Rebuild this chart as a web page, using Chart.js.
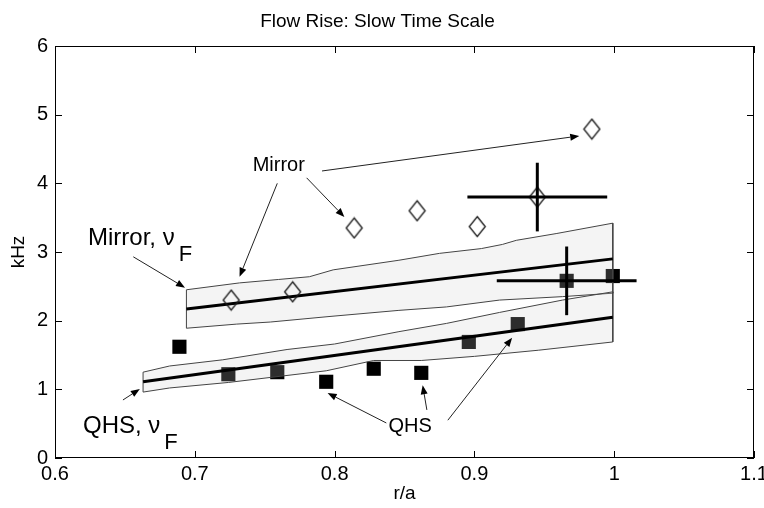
<!DOCTYPE html>
<html>
<head>
<meta charset="utf-8">
<script src="https://cdn.jsdelivr.net/npm/chart.js@4.4.1/dist/chart.umd.min.js"></script>
<style>
  body { margin: 0; background: #fff; }
  canvas { display: block; }
</style>
</head>
<body>
<canvas id="chart" width="764" height="508"></canvas>
<script>
const FONT = '"Liberation Sans", Arial, Helvetica, sans-serif';

// axes
const xTicks = [0.6, 0.7, 0.8, 0.9, 1.0, 1.1];
const xTickLabels = ["0.6", "0.7", "0.8", "0.9", "1", "1.1"];
const yTicks = [0, 1, 2, 3, 4, 5, 6];

// measured points
const mirrorR = [0.726, 0.770, 0.814, 0.859, 0.902, 0.945, 0.984];
const mirrorKHz = [2.30, 2.42, 3.35, 3.60, 3.37, 3.80, 4.79];
const qhsR = [0.689, 0.724, 0.759, 0.794, 0.828, 0.862, 0.896, 0.931, 0.966, 0.999];
const qhsKHz = [1.62, 1.22, 1.25, 1.11, 1.30, 1.24, 1.69, 1.95, 2.58, 2.65];

// error bars (centre, half widths)
const errR = [0.945, 0.966];
const errKHz = [3.80, 2.58];
const errHalfR = [0.05, 0.05];
const errHalfKHz = [0.5, 0.5];

// model nu_F : fit lines
const mirrorFitR = [0.694, 0.999];
const mirrorFitKHz = [2.17, 2.90];
const qhsFitR = [0.663, 0.999];
const qhsFitKHz = [1.11, 2.05];

// model nu_F : uncertainty bands
const mirrorUpR = [0.694, 0.732, 0.760, 0.782, 0.799, 0.846, 0.875, 0.905, 0.920, 0.930, 0.959, 0.999];
const mirrorUpKHz = [2.45, 2.55, 2.60, 2.64, 2.74, 2.88, 2.98, 3.05, 3.11, 3.17, 3.27, 3.42];
const mirrorLoR = [0.694, 0.730, 0.754, 0.796, 0.846, 0.880, 0.918, 0.963, 0.999];
const mirrorLoKHz = [1.89, 1.95, 1.98, 2.06, 2.15, 2.20, 2.30, 2.35, 2.40];
const qhsUpR = [0.663, 0.682, 0.720, 0.766, 0.800, 0.846, 0.880, 0.918, 0.963, 0.999];
const qhsUpKHz = [1.25, 1.34, 1.43, 1.58, 1.66, 1.84, 1.96, 2.12, 2.30, 2.42];
const qhsLoR = [0.663, 0.682, 0.724, 0.761, 0.794, 0.828, 0.862, 0.900, 0.946, 0.999];
const qhsLoKHz = [0.96, 1.02, 1.10, 1.19, 1.27, 1.42, 1.42, 1.48, 1.57, 1.69];

// text annotations, placed in data units
const notes = [
  { text: "Mirror, \u03bd", sub: "F", r: 0.6236, k: 3.10, size: 24 },
  { text: "QHS, \u03bd", sub: "F", r: 0.620, k: 0.364, size: 24 },
  { text: "Mirror", r: 0.7414, k: 4.18, size: 20 },
  { text: "QHS", r: 0.8386, k: 0.378, size: 20 },
];
const arrows = [
  [[0.656, 2.93], [0.693, 2.48]],
  [[0.759, 4.00], [0.732, 2.64]],
  [[0.780, 4.08], [0.807, 3.51]],
  [[0.791, 4.18], [0.975, 4.69]],
  [[0.6486, 0.845], [0.6607, 1.005]],
  [[0.837, 0.51], [0.795, 0.946]],
  [[0.866, 0.70], [0.863, 1.06]],
  [[0.881, 0.55], [0.927, 1.75]],
];

const pts = (xs, ys) => xs.map((x, i) => ({ x, y: ys[i] }));
const polygon = (upX, upY, loX, loY) => {
  const top = pts(upX, upY);
  const bottom = pts(loX, loY).reverse();
  return [...top, ...bottom, top[0]];
};

const diamond = document.createElement("canvas");
diamond.width = 19;
diamond.height = 23;
{
  const d = diamond.getContext("2d");
  d.strokeStyle = "#1a1a1a";
  d.lineWidth = 1.3;
  d.beginPath();
  d.moveTo(9.5, 1.5);
  d.lineTo(17.5, 11.5);
  d.lineTo(9.5, 21.5);
  d.lineTo(1.5, 11.5);
  d.closePath();
  d.stroke();
}

const band = (data) => ({
  data,
  showLine: true,
  tension: 0,
  fill: "shape",
  backgroundColor: "rgba(204,204,204,0.22)",
  borderColor: "#444",
  borderWidth: 1,
  pointRadius: 0,
  order: 5,
});

const bars = [];
errR.forEach((r, i) => {
  const k = errKHz[i];
  bars.push([{ x: r - errHalfR[i], y: k }, { x: r + errHalfR[i], y: k }]);
  bars.push([{ x: r, y: k - errHalfKHz[i] }, { x: r, y: k + errHalfKHz[i] }]);
});

const datasets = [
  {
    data: pts(qhsR, qhsKHz),
    pointStyle: "rect",
    pointRadius: 10,
    backgroundColor: "#000",
    borderWidth: 0,
    order: 6,
  },
  band(polygon(qhsUpR, qhsUpKHz, qhsLoR, qhsLoKHz)),
  band(polygon(mirrorUpR, mirrorUpKHz, mirrorLoR, mirrorLoKHz)),
  {
    data: pts(mirrorFitR, mirrorFitKHz),
    showLine: true, borderColor: "#000", borderWidth: 3, pointRadius: 0, order: 3,
  },
  {
    data: pts(qhsFitR, qhsFitKHz),
    showLine: true, borderColor: "#000", borderWidth: 3, pointRadius: 0, order: 3,
  },
  {
    data: pts(mirrorR, mirrorKHz),
    pointStyle: diamond,
    pointRadius: 9,
    order: 2,
  },
  ...bars.map(data => ({
    data, showLine: true, borderColor: "#000", borderWidth: 3, pointRadius: 0, order: 1,
  })),
];

const frame = {
  id: "frame",
  afterDatasetsDraw(chart) {
    const { ctx, chartArea: a, scales: { x, y } } = chart;
    ctx.save();

    // annotations
    ctx.fillStyle = "#000";
    ctx.textBaseline = "alphabetic";
    for (const n of notes) {
      ctx.font = `${n.size}px ${FONT}`;
      const px = x.getPixelForValue(n.r);
      const py = y.getPixelForValue(n.k);
      ctx.fillText(n.text, px, py);
      if (n.sub) {
        const w = ctx.measureText(n.text).width;
        ctx.font = `${n.size - 2}px ${FONT}`;
        ctx.fillText(n.sub, px + w + 4, py + 16);
      }
    }
    ctx.strokeStyle = "#222";
    ctx.lineWidth = 1;
    for (const [from, to] of arrows) {
      const x0 = x.getPixelForValue(from[0]), y0 = y.getPixelForValue(from[1]);
      const x1 = x.getPixelForValue(to[0]), y1 = y.getPixelForValue(to[1]);
      const ang = Math.atan2(y1 - y0, x1 - x0);
      const len = 9, half = 3.5;
      ctx.beginPath();
      ctx.moveTo(x0, y0);
      ctx.lineTo(x1 - Math.cos(ang) * len, y1 - Math.sin(ang) * len);
      ctx.stroke();
      ctx.beginPath();
      ctx.moveTo(x1, y1);
      ctx.lineTo(x1 - Math.cos(ang) * len - Math.sin(ang) * half, y1 - Math.sin(ang) * len + Math.cos(ang) * half);
      ctx.lineTo(x1 - Math.cos(ang) * len + Math.sin(ang) * half, y1 - Math.sin(ang) * len - Math.cos(ang) * half);
      ctx.closePath();
      ctx.fill();
    }

    // box with inward ticks
    ctx.strokeStyle = "#000";
    ctx.lineWidth = 1;
    ctx.strokeRect(a.left + 0.5, a.top + 0.5, a.right - a.left - 1, a.bottom - a.top - 1);
    ctx.beginPath();
    for (const v of xTicks) {
      const px = Math.round(x.getPixelForValue(v)) + 0.5;
      ctx.moveTo(px, a.bottom); ctx.lineTo(px, a.bottom - 7);
      ctx.moveTo(px, a.top); ctx.lineTo(px, a.top + 7);
    }
    for (const v of yTicks) {
      const py = Math.round(y.getPixelForValue(v)) + 0.5;
      ctx.moveTo(a.left, py); ctx.lineTo(a.left + 7, py);
      ctx.moveTo(a.right, py); ctx.lineTo(a.right - 7, py);
    }
    ctx.stroke();
    ctx.restore();
  },
};

Chart.defaults.font.family = FONT;
Chart.defaults.color = "#000";

new Chart(document.getElementById("chart"), {
  type: "scatter",
  data: { datasets },
  options: {
    responsive: false,
    devicePixelRatio: 1,
    animation: false,
    events: [],
    layout: { padding: { left: 0, right: 9, top: 0, bottom: 0 } },
    plugins: {
      legend: { display: false },
      tooltip: { enabled: false },
      title: {
        display: true,
        text: "Flow Rise: Slow Time Scale",
        font: { size: 19, weight: "normal" },
        padding: { top: 10, bottom: 13.2 },
      },
    },
    scales: {
      x: {
        type: "linear",
        min: 0.6,
        max: 1.1,
        grid: { display: false, drawTicks: false },
        border: { display: false },
        afterBuildTicks: (s) => { s.ticks = xTicks.map(value => ({ value })); },
        ticks: {
          font: { size: 20 },
          padding: 4,
          maxRotation: 0,
          callback: (v) => xTickLabels[xTicks.findIndex(t => Math.abs(t - v) < 1e-9)],
        },
        title: { display: true, text: "r/a", font: { size: 19 }, padding: { top: 0, bottom: 3 } },
        afterFit: (s) => { s.height = 50; s.paddingLeft = 0; s.paddingRight = 0; },
      },
      y: {
        type: "linear",
        min: 0,
        max: 6,
        grid: { display: false, drawTicks: false },
        border: { display: false },
        afterBuildTicks: (s) => { s.ticks = yTicks.map(value => ({ value })); },
        ticks: { font: { size: 20 }, padding: 7 },
        title: { display: true, text: "kHz", font: { size: 19 }, padding: { top: 7, bottom: 0 } },
        afterFit: (s) => { s.width = 55; s.paddingTop = 0; s.paddingBottom = 0; },
      },
    },
  },
  plugins: [frame],
});
</script>
</body>
</html>
